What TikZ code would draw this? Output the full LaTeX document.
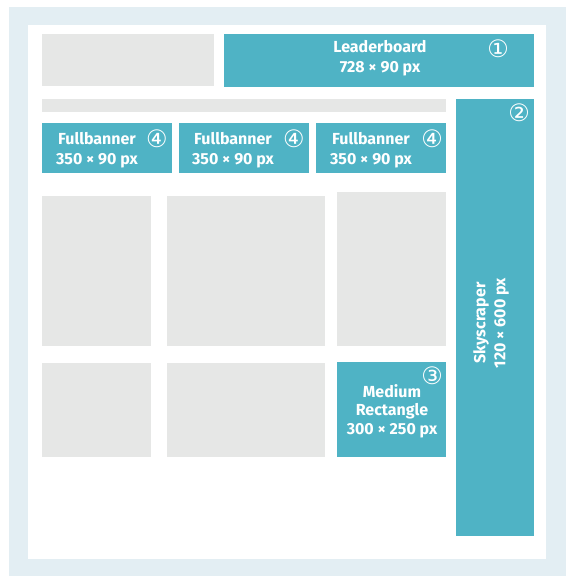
\documentclass[tikz,border=0pt]{standalone}
\usepackage{fontspec}
\setmainfont{Fira Sans}
\newfontfamily\circfont{DejaVu Sans}
\definecolor{frame}{HTML}{E3EEF3}
\definecolor{teal}{HTML}{4FB3C5}
\definecolor{grayb}{HTML}{E6E7E6}
\tikzset{
  lbl/.style={text=white, align=center, inner sep=0pt, font=\fontsize{16}{20}\selectfont\bfseries},
  circ/.style={text=white, inner sep=0pt, font=\circfont\fontsize{24}{24}\selectfont},
}
\begin{document}
\begin{tikzpicture}[x=1pt,y=-1pt]
\useasboundingbox (0,0) rectangle (568,577);
\fill[white] (0,0) rectangle (568,577);
\fill[frame] (9,7) rectangle (566,576);
\fill[white] (28,25) rectangle (546,559);
% gray placeholders
\fill[grayb] (42,34) rectangle (214,86);
\fill[grayb] (42,99) rectangle (446,112);
\fill[grayb] (42,196) rectangle (151,346);
\fill[grayb] (167,196) rectangle (325,346);
\fill[grayb] (337,192) rectangle (446,346);
\fill[grayb] (42,363) rectangle (151,457);
\fill[grayb] (167,363) rectangle (325,457);
% ad units
\fill[teal] (224,34) rectangle (534,87);
\fill[teal] (456,99) rectangle (534,536);
\fill[teal] (42,123) rectangle (172,173);
\fill[teal] (179,123) rectangle (309,173);
\fill[teal] (316,123) rectangle (446,173);
\fill[teal] (337,362) rectangle (446,457);
% labels
\node[lbl] (tlb) at (380,58.5) {Leaderboard\\728 × 90 px};
\node[lbl] (tfb1) at (97,150) {Fullbanner\\350 × 90 px};
\node[lbl] (tfb2) at (233,150) {Fullbanner\\350 × 90 px};
\node[lbl] (tfb3) at (371,150) {Fullbanner\\350 × 90 px};
\node[lbl, font=\fontsize{16}{18.5}\selectfont\bfseries] (tmr) at (392,411) {Medium\\Rectangle\\300 × 250 px};
\node[lbl, rotate=90] (tsk) at (491,323) {Skyscraper\\120 × 600 px};
% numbers
\node[circ] (c1) at (498,49) {①};
\node[circ] (c2) at (519,113) {②};
\node[circ] (c3) at (432,376) {③};
\node[circ] (c4a) at (157,139) {④};
\node[circ] (c4b) at (294,139) {④};
\node[circ] (c4c) at (432,139) {④};
\end{tikzpicture}
\end{document}
